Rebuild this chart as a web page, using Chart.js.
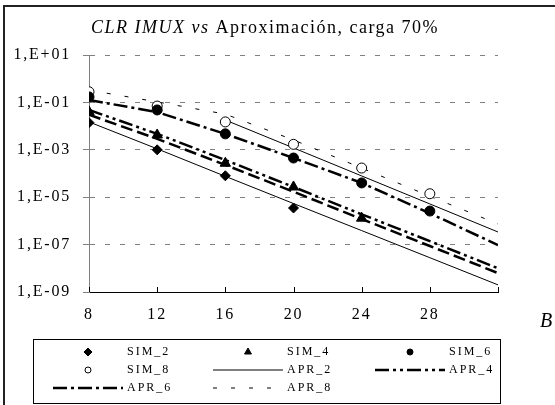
<!DOCTYPE html>
<html><head><meta charset="utf-8">
<script src="https://cdn.jsdelivr.net/npm/chart.js@4.4.1/dist/chart.umd.min.js"></script>
<style>html,body{margin:0;padding:0;background:#fff;}#wrap{position:relative;width:555px;height:405px;}</style>
</head><body><div id="wrap"><canvas id="c" width="555" height="405"></canvas></div>
<script>
// ---- data ----
const simB = [8, 12, 16, 20, 24, 28];
const aprB = [8, 12, 16, 20, 24, 28, 32];
const xTickValues = [8, 12, 16, 20, 24, 28, 32];
const yTickValues = [1e-9, 1e-7, 1e-5, 1e-3, 1e-1, 1e1];
const sim2 = [1.4e-2, 1.0e-3, 8.0e-5, 3.5e-6];
const sim4 = [4.0e-2, 4.2e-3, 2.7e-4, 2.7e-5, 1.3e-6];
const sim6 = [1.7e-1, 4.8e-2, 4.7e-3, 4.5e-4, 4.0e-5, 2.6e-6];
const sim8 = [2.8e-1, 7.0e-2, 1.5e-2, 1.7e-3, 1.7e-4, 1.4e-5];
const apr2 = [1.5e-2, 1.1e-3, 7.6e-5, 5.4e-6, 3.9e-7, 2.8e-8, 2.0e-9];
const apr4 = [4.8e-2, 4.7e-3, 3.7e-4, 2.7e-5, 1.9e-6, 1.4e-7, 1.0e-8];
const apr4b = [3.0e-2, 2.9e-3, 2.3e-4, 1.7e-5, 1.2e-6, 8.7e-8, 6.3e-9];
const apr6 = [1.26e-1, 3.9e-2, 4.7e-3, 4.5e-4, 4.0e-5, 2.1e-6, 9.5e-8];
const apr8 = [3.3e-1, 1.05e-1, 3.2e-2, 2.6e-3, 1.7e-4, 1.1e-5, 7.4e-7];
const aprUpperB = [16, 20, 24, 28, 32];
const aprUpper = [1.8e-2, 1.2e-3, 7.9e-5, 5.2e-6, 3.4e-7];
const titleItalic = 'CLR IMUX vs';
const titleRest = ' Aproximación, carga 70%';
const xAxisTitle = 'B';

const pts = (xs, ys) => ys.map((v, i) => ({x: xs[i], y: v}));
const SERIF = '"Liberation Serif", "Times New Roman", serif';
const DASH4 = [14, 4, 3, 4, 3, 4];
const DASH6 = [14, 4, 3, 4];
const DASH8 = [4, 14];

function lineDs(label, xs, ys, width, dash) {
  return {label, data: pts(xs, ys), showLine: true, borderColor: '#000', borderWidth: width,
    borderDash: dash, pointRadius: 0, pointHoverRadius: 0, fill: false, tension: 0, order: 2};
}
function markDs(label, xs, ys, style, fill, r) {
  return {label, data: pts(xs, ys), showLine: false, pointStyle: style, pointRadius: r,
    pointBackgroundColor: fill, pointBorderColor: '#000', pointBorderWidth: 1, backgroundColor: fill, borderColor: '#000', order: 1};
}

const datasets = [
  markDs('SIM_2', simB, sim2, 'rectRot', '#000', 5),
  markDs('SIM_4', simB, sim4, 'triangle', '#000', 6),
  markDs('SIM_6', simB, sim6, 'circle', '#000', 5),
  markDs('SIM_8', simB, sim8, 'circle', '#fff', 5),
  lineDs('APR_2', aprB, apr2, 1, []),
  lineDs('APR_4', aprB, apr4, 2.5, DASH4),
  lineDs('APR_6', aprB, apr6, 2.5, DASH6),
  lineDs('APR_8', aprB, apr8, 1, DASH8),
  lineDs('', aprB, apr4b, 2.5, [12, 5]),
  lineDs('', aprUpperB, aprUpper, 1, [])
];

const legendItems = [
  {label: 'SIM_2', kind: 'point', style: 'rectRot', fill: '#000', r: 4},
  {label: 'SIM_4', kind: 'point', style: 'triangle', fill: '#000', r: 4},
  {label: 'SIM_6', kind: 'point', style: 'circle', fill: '#000', r: 3},
  {label: 'SIM_8', kind: 'point', style: 'circle', fill: '#fff', r: 3},
  {label: 'APR_2', kind: 'line', width: 1, dash: []},
  {label: 'APR_4', kind: 'line', width: 2.5, dash: DASH4},
  {label: 'APR_6', kind: 'line', width: 2.5, dash: DASH6},
  {label: 'APR_8', kind: 'line', width: 1, dash: DASH8}
];

function fmtE(v) {
  const e = Math.round(Math.log10(v));
  const s = e < 0 ? '-' : '+';
  return '1,E' + s + String(Math.abs(e)).padStart(2, '0');
}

const decor = {
  id: 'decor',
  beforeLayout(chart) { chart.ctx.letterSpacing = '1.8px'; },
  beforeDraw(chart) {
    const ctx = chart.ctx;
    ctx.save(); ctx.fillStyle = '#fff'; ctx.fillRect(0, 0, chart.width, chart.height); ctx.restore();
    ctx.letterSpacing = '1.8px';
  },
  beforeDatasetsDraw(chart) { chart.ctx.letterSpacing = '0px'; },
  afterDraw(chart) {
    const ctx = chart.ctx;
    const xs = chart.scales.x, ca = chart.chartArea;
    ctx.save();
    // outer frame
    ctx.strokeStyle = '#222'; ctx.lineWidth = 2;
    ctx.beginPath(); ctx.moveTo(4, 405); ctx.lineTo(4, 6); ctx.lineTo(555, 6); ctx.stroke();
    // inner x ticks
    ctx.strokeStyle = '#000'; ctx.lineWidth = 1;
    xTickValues.forEach(v => {
      const px = Math.round(xs.getPixelForValue(v)) + 0.5;
      ctx.beginPath(); ctx.moveTo(px, ca.bottom); ctx.lineTo(px, ca.bottom - 5); ctx.stroke();
    });
    // title
    ctx.fillStyle = '#000'; ctx.textBaseline = 'alphabetic';
    ctx.letterSpacing = '1.5px';
    ctx.font = 'italic 18px ' + SERIF;
    const w1 = ctx.measureText(titleItalic).width;
    ctx.font = '18px ' + SERIF;
    const w2 = ctx.measureText(titleRest).width;
    const tx = 265 - (w1 + w2) / 2;
    ctx.textAlign = 'left';
    ctx.font = 'italic 18px ' + SERIF; ctx.fillText(titleItalic, tx, 33);
    ctx.font = '18px ' + SERIF; ctx.fillText(titleRest, tx + w1, 33);
    // B axis title
    ctx.letterSpacing = '0px';
    ctx.font = 'italic 20px ' + SERIF; ctx.textAlign = 'center'; ctx.textBaseline = 'middle';
    ctx.fillText(xAxisTitle, 546, 322);
    // legend
    const box = {x: 33, y: 339, w: 467, h: 64};
    ctx.strokeStyle = '#000'; ctx.lineWidth = 1;
    ctx.strokeRect(box.x + 0.5, box.y + 0.5, box.w, box.h);
    const cols = [33, 193, 355], rows = [352, 370, 388];
    ctx.font = '12px ' + SERIF; ctx.letterSpacing = '2px'; ctx.textAlign = 'left'; ctx.textBaseline = 'middle';
    legendItems.forEach((it, i) => {
      const c = cols[i % 3], y = rows[Math.floor(i / 3)];
      if (it.kind === 'point') {
        ctx.save(); ctx.fillStyle = it.fill; ctx.strokeStyle = '#000'; ctx.lineWidth = 1;
        Chart.helpers.drawPoint(ctx, {pointStyle: it.style, radius: it.r, borderWidth: 1, rotation: 0}, c + 55, y);
        ctx.restore();
      } else {
        ctx.save(); ctx.strokeStyle = '#000'; ctx.lineWidth = it.width; ctx.setLineDash(it.dash); ctx.beginPath();
        ctx.moveTo(c + 20, y); ctx.lineTo(c + 90, y); ctx.stroke(); ctx.restore();
      }
      ctx.fillStyle = '#000';
      ctx.fillText(it.label, c + 94, y);
    });
    ctx.restore();
  }
};

new Chart(document.getElementById('c'), {
  type: 'scatter',
  data: {datasets},
  options: {
    responsive: false, animation: false, devicePixelRatio: 1,
    layout: {padding: {top: 55, right: 57, bottom: 0, left: 0}},
    plugins: {legend: {display: false}, title: {display: false}, tooltip: {enabled: false}},
    scales: {
      x: {
        type: 'linear', min: 8, max: 32,
        afterBuildTicks: s => { s.ticks = xTickValues.map(v => ({value: v})); },
        afterFit: s => { s.height = 113; },
        grid: {display: true, drawOnChartArea: false, drawTicks: false},
        border: {display: true, color: '#000', width: 1},
        ticks: {font: {family: SERIF, size: 16}, color: '#000', padding: 13,
          callback: v => (v === 32 ? '' : String(v))}
      },
      y: {
        type: 'logarithmic', min: 1e-9, max: 1e1,
        afterBuildTicks: s => { s.ticks = yTickValues.map(v => ({value: v})); },
        afterFit: s => { s.width = 89; },
        grid: {color: '#808080', tickLength: 6, tickColor: '#808080', tickBorderDash: [], lineWidth: 1},
        border: {display: true, color: '#808080', width: 1, dash: [5, 10]},
        ticks: {font: {family: SERIF, size: 16}, color: '#000', padding: 12, callback: v => fmtE(v)}
      }
    }
  },
  plugins: [decor]
});
</script></body></html>
